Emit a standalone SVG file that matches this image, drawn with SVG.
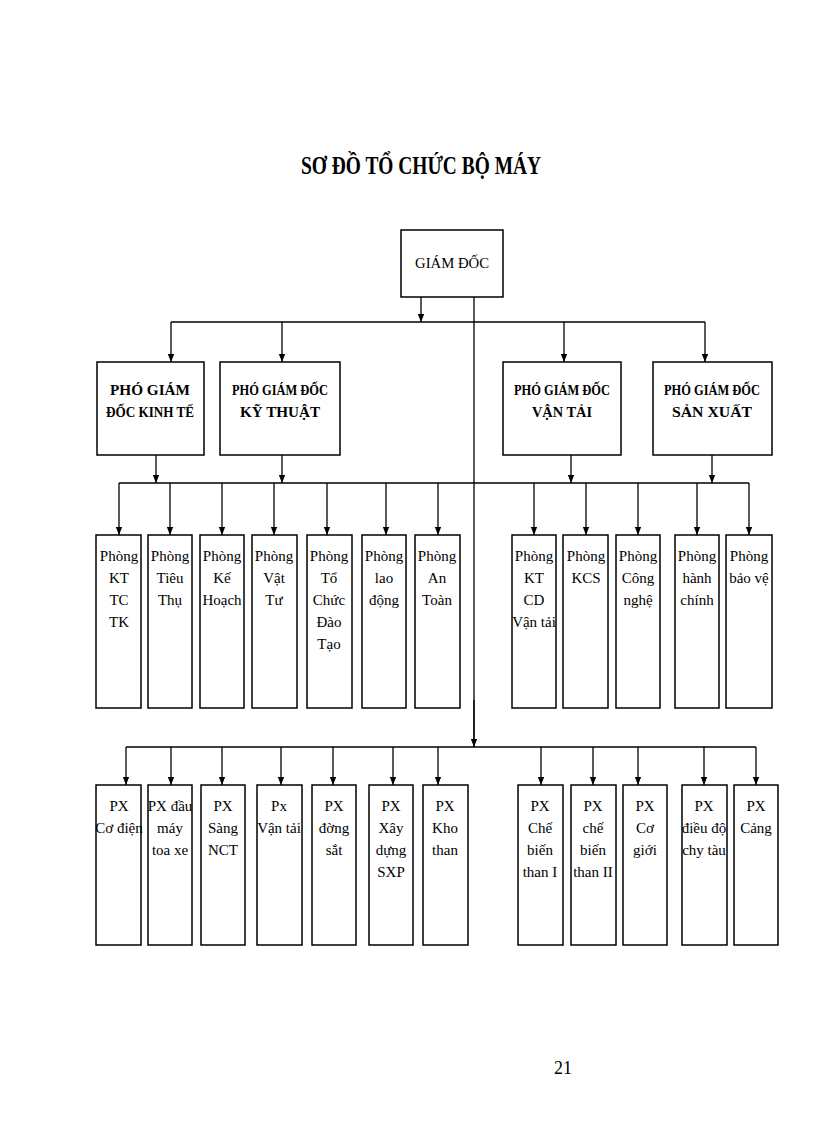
<svg xmlns="http://www.w3.org/2000/svg" width="816" height="1123" viewBox="0 0 816 1123">
<style>
rect{fill:#fff;stroke:#000;stroke-width:1.5}
text{font-family:"Liberation Serif",serif;font-size:15px;text-anchor:middle;fill:#000}
.b{font-weight:bold}
.t{font-size:25px;font-weight:bold}
#c line{stroke:#000;stroke-width:1.3}
#c .a{marker-end:url(#m)}
</style>
<defs><marker id="m" viewBox="0 0 10 10" refX="10" refY="5" markerWidth="8" markerHeight="8" markerUnits="userSpaceOnUse" orient="auto"><path d="M0,1L10,5L0,9z" fill="#000"/></marker></defs>
<rect width="816" height="1123" style="stroke:none"/>
<text class="t" x="421" y="174" textLength="240" lengthAdjust="spacingAndGlyphs">SƠ ĐỒ TỔ CHỨC BỘ MÁY</text>
<g id="c">
<line class="a" x1="421" y1="297" x2="421" y2="322"/>
<line x1="474" y1="297" x2="474" y2="747"/>
<line x1="171" y1="322" x2="705" y2="322"/>
<line class="a" x1="171" y1="322" x2="171" y2="362"/>
<line class="a" x1="282" y1="322" x2="282" y2="362"/>
<line class="a" x1="564" y1="322" x2="564" y2="362"/>
<line class="a" x1="705" y1="322" x2="705" y2="362"/>
<line class="a" x1="156" y1="455" x2="156" y2="483"/>
<line class="a" x1="282" y1="455" x2="282" y2="483"/>
<line class="a" x1="571" y1="455" x2="571" y2="483"/>
<line class="a" x1="712" y1="455" x2="712" y2="483"/>
<line x1="119" y1="483" x2="749" y2="483"/>
<line class="a" x1="119" y1="483" x2="119" y2="535"/>
<line class="a" x1="170" y1="483" x2="170" y2="535"/>
<line class="a" x1="222" y1="483" x2="222" y2="535"/>
<line class="a" x1="274" y1="483" x2="274" y2="535"/>
<line class="a" x1="327" y1="483" x2="327" y2="535"/>
<line class="a" x1="386" y1="483" x2="386" y2="535"/>
<line class="a" x1="438" y1="483" x2="438" y2="535"/>
<line class="a" x1="534" y1="483" x2="534" y2="535"/>
<line class="a" x1="586" y1="483" x2="586" y2="535"/>
<line class="a" x1="638" y1="483" x2="638" y2="535"/>
<line class="a" x1="697" y1="483" x2="697" y2="535"/>
<line class="a" x1="749" y1="483" x2="749" y2="535"/>
<line class="a" x1="474" y1="700" x2="474" y2="747"/>
<line x1="126" y1="747" x2="756" y2="747"/>
<line class="a" x1="126" y1="747" x2="126" y2="785"/>
<line class="a" x1="171" y1="747" x2="171" y2="785"/>
<line class="a" x1="222" y1="747" x2="222" y2="785"/>
<line class="a" x1="281" y1="747" x2="281" y2="785"/>
<line class="a" x1="333" y1="747" x2="333" y2="785"/>
<line class="a" x1="393" y1="747" x2="393" y2="785"/>
<line class="a" x1="438" y1="747" x2="438" y2="785"/>
<line class="a" x1="541" y1="747" x2="541" y2="785"/>
<line class="a" x1="593" y1="747" x2="593" y2="785"/>
<line class="a" x1="638" y1="747" x2="638" y2="785"/>
<line class="a" x1="704" y1="747" x2="704" y2="785"/>
<line class="a" x1="756" y1="747" x2="756" y2="785"/>
</g>
<g id="gd"><rect x="401" y="230" width="102" height="67"/><text x="452" y="268" textLength="74" lengthAdjust="spacingAndGlyphs">GIÁM ĐỐC</text></g>
<g id="pkt"><rect x="97" y="362" width="107" height="93"/><text class="b" x="150" y="395" textLength="80" lengthAdjust="spacingAndGlyphs">PHÓ GIÁM</text><text class="b" x="150" y="417" textLength="88" lengthAdjust="spacingAndGlyphs">ĐỐC KINH TẾ</text></g>
<g id="pkth"><rect x="220" y="362" width="120" height="93"/><text class="b" x="280" y="395" textLength="96" lengthAdjust="spacingAndGlyphs">PHÓ GIÁM ĐỐC</text><text class="b" x="280" y="417" textLength="80" lengthAdjust="spacingAndGlyphs">KỸ THUẬT</text></g>
<g id="pvt"><rect x="503" y="362" width="118" height="93"/><text class="b" x="562" y="395" textLength="96" lengthAdjust="spacingAndGlyphs">PHÓ GIÁM ĐỐC</text><text class="b" x="562" y="417" textLength="60" lengthAdjust="spacingAndGlyphs">VẬN TẢI</text></g>
<g id="psx"><rect x="653" y="362" width="119" height="93"/><text class="b" x="712" y="395" textLength="96" lengthAdjust="spacingAndGlyphs">PHÓ GIÁM ĐỐC</text><text class="b" x="712" y="417" textLength="80" lengthAdjust="spacingAndGlyphs">SẢN  XUẤT</text></g>
<g id="p1"><rect x="96" y="535" width="45" height="173"/><text x="119" y="561">Phòng</text><text x="119" y="583">KT</text><text x="119" y="605">TC</text><text x="119" y="627">TK</text></g>
<g id="p2"><rect x="148" y="535" width="44" height="173"/><text x="170" y="561">Phòng</text><text x="170" y="583">Tiêu</text><text x="170" y="605">Thụ</text></g>
<g id="p3"><rect x="200" y="535" width="44" height="173"/><text x="222" y="561">Phòng</text><text x="222" y="583">Kế</text><text x="222" y="605">Hoạch</text></g>
<g id="p4"><rect x="252" y="535" width="45" height="173"/><text x="274" y="561">Phòng</text><text x="274" y="583">Vật</text><text x="274" y="605">Tư</text></g>
<g id="p5"><rect x="307" y="535" width="45" height="173"/><text x="329" y="561">Phòng</text><text x="329" y="583">Tổ</text><text x="329" y="605">Chức</text><text x="329" y="627">Đào</text><text x="329" y="649">Tạo</text></g>
<g id="p6"><rect x="362" y="535" width="44" height="173"/><text x="384" y="561">Phòng</text><text x="384" y="583">lao</text><text x="384" y="605">động</text></g>
<g id="p7"><rect x="415" y="535" width="45" height="173"/><text x="437" y="561">Phòng</text><text x="437" y="583">An</text><text x="437" y="605">Toàn</text></g>
<g id="p8"><rect x="512" y="535" width="44" height="173"/><text x="534" y="561">Phòng</text><text x="534" y="583">KT</text><text x="534" y="605">CD</text><text x="534" y="627">Vận tải</text></g>
<g id="p9"><rect x="563" y="535" width="45" height="173"/><text x="586" y="561">Phòng</text><text x="586" y="583">KCS</text></g>
<g id="p10"><rect x="616" y="535" width="44" height="173"/><text x="638" y="561">Phòng</text><text x="638" y="583">Công</text><text x="638" y="605">nghệ</text></g>
<g id="p11"><rect x="675" y="535" width="44" height="173"/><text x="697" y="561">Phòng</text><text x="697" y="583">hành</text><text x="697" y="605">chính</text></g>
<g id="p12"><rect x="726" y="535" width="46" height="173"/><text x="749" y="561">Phòng</text><text x="749" y="583">bảo vệ</text></g>
<g id="x1"><rect x="96" y="785" width="45" height="160"/><text x="119" y="811">PX</text><text x="119" y="833">Cơ điện</text></g>
<g id="x2"><rect x="148" y="785" width="44" height="160"/><text x="170" y="811">PX đầu</text><text x="170" y="833">máy</text><text x="170" y="855">toa xe</text></g>
<g id="x3"><rect x="201" y="785" width="44" height="160"/><text x="223" y="811">PX</text><text x="223" y="833">Sàng</text><text x="223" y="855">NCT</text></g>
<g id="x4"><rect x="257" y="785" width="45" height="160"/><text x="279" y="811">Px</text><text x="279" y="833">Vận tải</text></g>
<g id="x5"><rect x="312" y="785" width="44" height="160"/><text x="334" y="811">PX</text><text x="334" y="833">đờng</text><text x="334" y="855">sắt</text></g>
<g id="x6"><rect x="369" y="785" width="44" height="160"/><text x="391" y="811">PX</text><text x="391" y="833">Xây</text><text x="391" y="855">dựng</text><text x="391" y="877">SXP</text></g>
<g id="x7"><rect x="423" y="785" width="45" height="160"/><text x="445" y="811">PX</text><text x="445" y="833">Kho</text><text x="445" y="855">than</text></g>
<g id="x8"><rect x="518" y="785" width="45" height="160"/><text x="540" y="811">PX</text><text x="540" y="833">Chế</text><text x="540" y="855">biến</text><text x="540" y="877">than I</text></g>
<g id="x9"><rect x="571" y="785" width="45" height="160"/><text x="593" y="811">PX</text><text x="593" y="833">chế</text><text x="593" y="855">biến</text><text x="593" y="877">than II</text></g>
<g id="x10"><rect x="623" y="785" width="44" height="160"/><text x="645" y="811">PX</text><text x="645" y="833">Cơ</text><text x="645" y="855">giới</text></g>
<g id="x11"><rect x="682" y="785" width="45" height="160"/><text x="704" y="811">PX</text><text x="704" y="833">điều độ</text><text x="704" y="855">chy tàu</text></g>
<g id="x12"><rect x="734" y="785" width="44" height="160"/><text x="756" y="811">PX</text><text x="756" y="833">Cảng</text></g>
<text x="563" y="1074" style="font-size:18px">21</text>
</svg>
